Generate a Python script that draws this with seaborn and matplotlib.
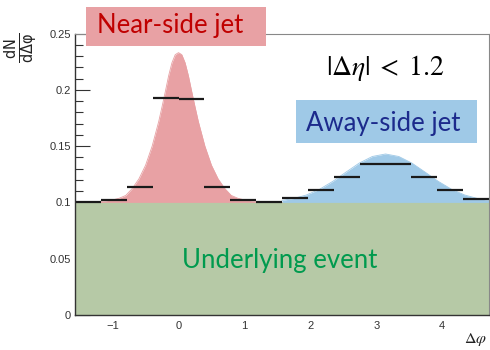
import numpy as np
import matplotlib
matplotlib.use("Agg")
import matplotlib.pyplot as plt
from matplotlib.patches import Rectangle
from matplotlib.ticker import MultipleLocator, FixedLocator
import seaborn as sns

# ---------------- data ----------------
bin_edges = [-1.571, -1.178, -0.785, -0.393, 0.0, 0.393, 0.785, 1.178, 1.571,
             1.963, 2.356, 2.749, 3.142, 3.534, 3.927, 4.320, 4.712]
bin_values = [0.1000, 0.1020, 0.1137, 0.1926, 0.1922, 0.1137, 0.1020, 0.1000,
              0.1036, 0.1110, 0.1223, 0.1343, 0.1343, 0.1223, 0.1110, 0.1033]

baseline = 0.1

near_x = [-1.571, -1.4, -1.2, -1.0, -0.9, -0.8, -0.7, -0.6, -0.5, -0.4, -0.3,
          -0.25, -0.2, -0.15, -0.1, -0.05, 0.0, 0.05, 0.1, 0.15, 0.2, 0.25,
          0.3, 0.4, 0.5, 0.6, 0.7, 0.8, 0.9, 1.0, 1.2, 1.4, 1.571]
near_y = [0.1000, 0.1003, 0.1008, 0.1022, 0.1037, 0.1062, 0.1125, 0.1210,
          0.1330, 0.1500, 0.1720, 0.1850, 0.1985, 0.2125, 0.2240, 0.2312,
          0.2330, 0.2312, 0.2240, 0.2125, 0.1985, 0.1850, 0.1720, 0.1500,
          0.1330, 0.1210, 0.1125, 0.1062, 0.1037, 0.1022, 0.1008, 0.1003,
          0.1000]

away_x = [1.571, 1.742, 1.942, 2.142, 2.342, 2.542, 2.742, 2.942, 3.142,
          3.342, 3.542, 3.742, 3.942, 4.142, 4.342, 4.542, 4.712]
away_y = [0.1018, 0.1034, 0.1066, 0.1117, 0.1187, 0.1269, 0.1349, 0.1408,
          0.1430, 0.1408, 0.1349, 0.1269, 0.1187, 0.1117, 0.1066, 0.1034,
          0.1018]

x_ticks = [-1, 0, 1, 2, 3, 4]
y_ticks = [0, 0.05, 0.1, 0.15, 0.2, 0.25]
y_tick_labels = ["0", "0.05", "0.1", "0.15", "0.2", "0.25"]

# ---------------- style ----------------
sns.set_style("ticks")
plt.rcParams['font.family'] = ['Liberation Sans', 'DejaVu Sans']
plt.rcParams['mathtext.fontset'] = 'stix'

W, H = 490, 350
fig = plt.figure(figsize=(W / 100, H / 100), dpi=100)
ax = fig.add_axes([75 / W, 1 - 315 / H, (489 - 75) / W, (315 - 33.5) / H])

c_red = '#E8A1A4'
c_blue = '#9FC9E7'
c_green = '#B6C9A6'

xmin, xmax = bin_edges[0], bin_edges[-1]

# underlying event
ax.fill_between([xmin, xmax], [0, 0], [baseline, baseline], color=c_green,
                linewidth=0, zorder=1)
# curves
sns.lineplot(x=away_x, y=away_y, ax=ax, color=c_blue, linewidth=0.6,
             sort=False, zorder=2)
ax.fill_between(away_x, baseline, away_y, color=c_blue, linewidth=0, zorder=2)
sns.lineplot(x=near_x, y=near_y, ax=ax, color=c_red, linewidth=0.6,
             sort=False, zorder=3)
ax.fill_between(near_x, baseline, near_y, color=c_red, linewidth=0, zorder=3)

# histogram bars
ax.hlines(bin_values, bin_edges[:-1], bin_edges[1:], colors='#1a1a1a',
          linewidth=1.6, zorder=4)

ax.set_xlim(xmin, xmax)
ax.set_ylim(0, 0.25)

ax.xaxis.set_major_locator(FixedLocator(x_ticks))
ax.xaxis.set_minor_locator(MultipleLocator(0.2))
ax.yaxis.set_major_locator(FixedLocator(y_ticks))
ax.set_yticklabels(y_tick_labels)
ax.yaxis.set_minor_locator(MultipleLocator(0.01))

ax.tick_params(axis='both', which='both', direction='in', top=False,
               right=False, labelsize=8, colors='#333333', zorder=5)
ax.tick_params(axis='y', which='major', length=11, width=0.8, pad=3)
ax.tick_params(axis='y', which='minor', length=6, width=0.8)
ax.tick_params(axis='x', which='major', length=9, width=0.8, pad=4)
ax.tick_params(axis='x', which='minor', length=5, width=0.8)

for s in ['left', 'bottom']:
    ax.spines[s].set_color('#333333')
    ax.spines[s].set_linewidth(1.0)
    ax.spines[s].set_zorder(6)
for s in ['top', 'right']:
    ax.spines[s].set_visible(True)
    ax.spines[s].set_color('#888888')
    ax.spines[s].set_linewidth(0.8)
    ax.spines[s].set_zorder(6)

ax.set_xlabel("")
ax.set_ylabel("")

# axis labels
fig.text(21 / W, 1 - 48 / H, r"$\mathrm{\frac{dN}{d\Delta\varphi}}$",
         rotation=90, ha='center', va='center', fontsize=15, color='#222222',
         math_fontfamily='dejavusans')
fig.text(487 / W, 1 - 348.5 / H, r"$\Delta\varphi$", ha='right', va='bottom',
         fontsize=11.5, color='#222222')

# label boxes
label_font = ['Lato', 'DejaVu Sans']


def box(x0, y0, x1, y1, fc):
    fig.add_artist(Rectangle((x0 / W, 1 - y1 / H), (x1 - x0) / W,
                             (y1 - y0) / H, transform=fig.transFigure,
                             facecolor=fc, edgecolor='none', zorder=10))


def label(x, y_base, text, tc, size=18.5):
    fig.text(x / W, 1 - y_base / H, text, ha='left', va='baseline', color=tc,
             fontsize=size, family=label_font, zorder=11)


box(86, 7, 266, 46, c_red)
label(97, 33, "Near-side jet", '#C00000')
box(296, 100, 477, 143, c_blue)
label(306, 131.5, "Away-side jet", '#1c2a8c')
label(182, 268, "Underlying event", '#009A4E')

fig.text(326 / W, 1 - 75 / H, r"$|\Delta\eta|\;<\;1.2$", ha='left',
         va='baseline', color='black', fontsize=20, zorder=11)

fig.savefig("out.png", dpi=100)
